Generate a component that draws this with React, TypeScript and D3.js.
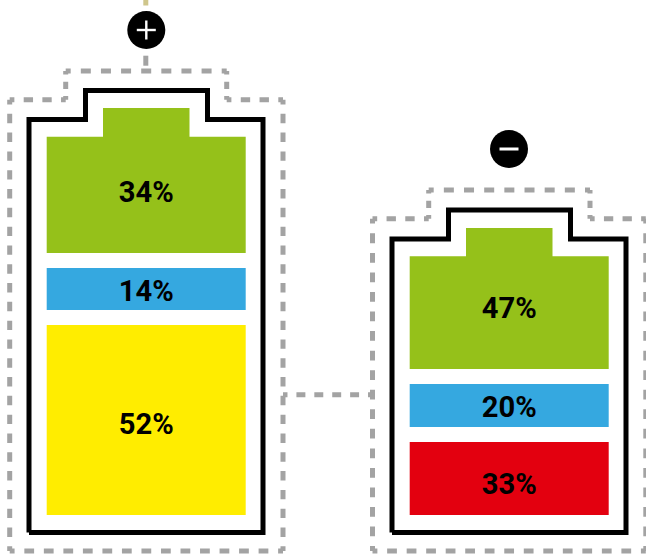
import * as d3 from "d3";
import React from "react";

// charged battery, bottom to top
const chargedLabels = ["yellow", "blue", "green"];
const chargedValues = [52, 14, 34];
// discharged battery, bottom to top
const dischargedLabels = ["red", "blue", "green"];
const dischargedValues = [33, 20, 47];

const colors: Record<string, string> = {
  green: "#95c11a",
  blue: "#35a8e0",
  yellow: "#ffed00",
  red: "#e3000f",
};
const DASH_GREY = "#a3a3a3";

const W = 646;
const H = 554;
const GAP = 15;

type Pt = [number, number];

const line = d3.line<Pt>();

// battery silhouette: x0..x1 body, nx0..nx1 nub
const silhouette = (x0: number, x1: number, nx0: number, nx1: number, top: number, shoulder: number, bottom: number): Pt[] => [
  [x0, bottom],
  [x0, shoulder],
  [nx0, shoulder],
  [nx0, top],
  [nx1, top],
  [nx1, shoulder],
  [x1, shoulder],
  [x1, bottom],
  [x0, bottom],
];

// dash pattern that puts half a dash on every corner of the polyline
const cornerDashes = (pts: Pt[]) => {
  const out: number[] = [];
  d3.pairs(pts).forEach(([a, b]) => {
    const len = Math.hypot(b[0] - a[0], b[1] - a[1]);
    const n = Math.max(1, Math.round(len / 19));
    const dash = Math.min(10, (len / n) * 0.5);
    const gap = len / n - dash;
    out.push(dash / 2);
    for (let i = 0; i < n - 1; i++) out.push(gap, dash);
    out.push(gap, dash / 2, 0);
  });
  return out.join(" ");
};

const DashedPath = ({ pts }: { pts: Pt[] }) => (
  <path d={line(pts) as string} fill="none" stroke={DASH_GREY} strokeWidth={5} strokeDasharray={cornerDashes(pts)} />
);

interface BatteryProps {
  labels: string[];
  values: number[];
  pxRange: number[]; // where the cumulative percentages land
  dx: number;
  dy: number;
  labelShift: number[];
}

const Battery = ({ labels, values, pxRange, dx, dy, labelShift }: BatteryProps) => {
  const cum = d3.cumsum(values);
  const y = d3.scaleLinear([0, ...cum], pxRange);
  const x = d3.scaleLinear([0, 1], [46.7 + dx, 245.7 + dx]);

  const shoulderY = dy + 136.7;
  const nubL = 103 + dx;
  const nubR = 189.5 + dx;

  return (
    <g>
      <path
        d={line(silhouette(29 + dx, 263 + dx, 85.5 + dx, 207.5 + dx, 90.5 + dy, 119.5 + dy, 532.5)) as string}
        fill="#fff"
        stroke="#000"
        strokeWidth={5}
        strokeLinejoin="miter"
      />
      {values.map((v, i) => {
        const low = i === 0 ? 0 : cum[i - 1];
        const y0 = y(low) - (i === 0 ? 0 : GAP / 2);
        const y1 = y(cum[i]) + (i === values.length - 1 ? 0 : GAP / 2);
        const isTop = i === values.length - 1;
        const textY = (isTop ? (shoulderY + y0) / 2 : (y0 + y1) / 2) + labelShift[i];
        return (
          <g key={labels[i]}>
            {isTop ? (
              <path
                d={line([
                  [x(0), y0],
                  [x(0), shoulderY],
                  [nubL, shoulderY],
                  [nubL, y1],
                  [nubR, y1],
                  [nubR, shoulderY],
                  [x(1), shoulderY],
                  [x(1), y0],
                ]) + "Z"}
                fill={colors[labels[i]]}
              />
            ) : (
              <rect x={x(0)} y={y1} width={x(1) - x(0)} height={y0 - y1} fill={colors[labels[i]]} />
            )}
            <text
              x={(x(0) + x(1)) / 2}
              y={textY}
              textAnchor="middle"
              dominantBaseline="central"
              fontFamily="Roboto, sans-serif"
              fontWeight={700}
              fontSize={29}
              textLength={55}
              lengthAdjust="spacingAndGlyphs"
              fill="#000"
            >
              {v}%
            </text>
          </g>
        );
      })}
    </g>
  );
};

const Sign = ({ cx, cy, plus }: { cx: number; cy: number; plus: boolean }) => (
  <g>
    <circle cx={cx} cy={cy} r={19} fill="#000" />
    <line x1={cx - 9.5} x2={cx + 9.5} y1={cy} y2={cy} stroke="#fff" strokeWidth={plus ? 2.4 : 3} />
    {plus && <line x1={cx} x2={cx} y1={cy - 9.5} y2={cy + 9.5} stroke="#fff" strokeWidth={2.4} />}
  </g>
);

export default function App() {
  return (
    <svg width={W} height={H} style={{ position: "absolute", left: 0, top: 0 }}>
      <rect x={143.3} y={0} width={5} height={5.5} fill="#cfc68c" />
      <rect x={143.3} y={55.7} width={5} height={10} fill={DASH_GREY} />
      <DashedPath pts={silhouette(9.7, 283, 65.7, 226.7, 71, 99.7, 551)} />
      <DashedPath pts={silhouette(372.5, 645.8, 428.7, 590, 190, 218.7, 551)} />
      <DashedPath pts={[[283, 394.7], [372.5, 394.7]]} />

      <Sign cx={146.3} cy={30} plus />
      <Sign cx={509} cy={149} plus={false} />

      <Battery
        labels={chargedLabels}
        values={chargedValues}
        pxRange={[515, 317.5, 260.5, 108]}
        dx={0}
        dy={0}
        labelShift={[4, 2, -2.7]}
      />
      <Battery
        labels={dischargedLabels}
        values={dischargedValues}
        pxRange={[515, 434.5, 376.5, 228]}
        dx={363}
        dy={119.5}
        labelShift={[5.5, 1.5, -5]}
      />
    </svg>
  );
}
